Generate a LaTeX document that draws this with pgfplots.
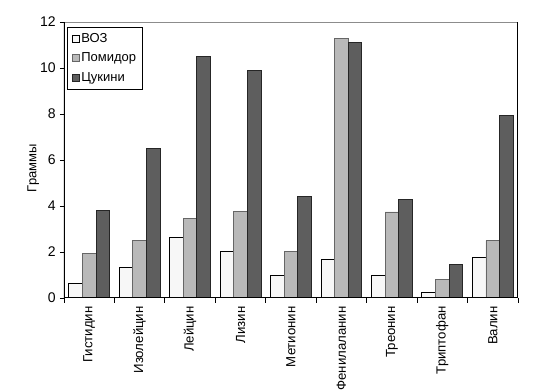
\documentclass[border=0pt]{standalone}
\usepackage{pgfplots}
\pgfplotsset{compat=1.18}
\usepackage{fontspec}
\setmainfont{Liberation Sans}
\definecolor{cWHO}{HTML}{F7F7F7}
\definecolor{cTom}{HTML}{B9B9B9}
\definecolor{cZuc}{HTML}{5E5E5E}
\begin{document}
\fontsize{12.5}{15}\selectfont
\begin{tikzpicture}
\begin{axis}[
  at={(0,0)}, anchor=south west,
  scale only axis, width=454pt, height=276pt,
  ybar=0pt, bar width=13.6pt,
  xmin=-0.5, xmax=8.5, ymin=0, ymax=12,
  xtick={0,...,8},
  xticklabels={Гистидин,Изолейцин,Лейцин,Лизин,Метионин,Фенилаланин,Треонин,Триптофан,Валин},
  xticklabel style={rotate=90, anchor=east, font=\fontsize{13.2}{15}\selectfont},
  yticklabel style={font=\fontsize{14}{16}\selectfont},
  /pgf/number format/assume math mode=true,
  major x tick style={draw=none},
  minor xtick={-0.5,0.5,...,8.5},
  minor tick length=5pt,
  major tick length=4pt,
  tick align=outside,
  xtick pos=bottom, ytick pos=left,
  ytick={0,2,...,12},
  tick style={black, line width=0.8pt},
  axis line style={draw=none},
  ylabel={Граммы},
  ylabel style={at={(axis description cs:-0.068,0.47)}, anchor=center, font=\fontsize{13}{15}\selectfont},
  legend style={at={(axis description cs:0.007,0.982)}, anchor=north west, draw=black, line width=0.8pt,
    font=\fontsize{13}{15}\selectfont, row sep=4.5pt, inner xsep=4pt, inner ysep=4pt, cells={anchor=west}},
  legend image code/.code={\draw[#1, line width=0.8pt] (0pt,-3.5pt) rectangle (7pt,3.5pt);},
  legend cell align=left,
]
\addplot[fill=cWHO, draw=black, line width=0.9pt] coordinates {(0,0.65) (1,1.33) (2,2.62) (3,2.01) (4,0.99) (5,1.68) (6,1.00) (7,0.25) (8,1.75)};
\addplot[fill=cTom, draw=black!60, line width=0.9pt] coordinates {(0,1.94) (1,2.49) (2,3.46) (3,3.75) (4,2.03) (5,11.3) (6,3.74) (7,0.81) (8,2.49)};
\addplot[fill=cZuc, draw=black!85, line width=0.9pt] coordinates {(0,3.81) (1,6.5) (2,10.5) (3,9.9) (4,4.4) (5,11.1) (6,4.27) (7,1.46) (8,7.95)};
\legend{ВОЗ,Помидор,Цукини}
\draw[black!45, line width=0.9pt] (rel axis cs:0,1) -- (rel axis cs:1,1);
\draw[black, line width=1.3pt] (rel axis cs:1,0) -- (rel axis cs:1,1);
\draw[black, line width=1.3pt] (rel axis cs:0,0) -- (rel axis cs:0,1);
\draw[black, line width=2pt] (rel axis cs:0,0) -- (rel axis cs:1,0);
\end{axis}
\pgfresetboundingbox
\path (-64pt,-93pt) rectangle (486pt,298pt);
\end{tikzpicture}
\end{document}
